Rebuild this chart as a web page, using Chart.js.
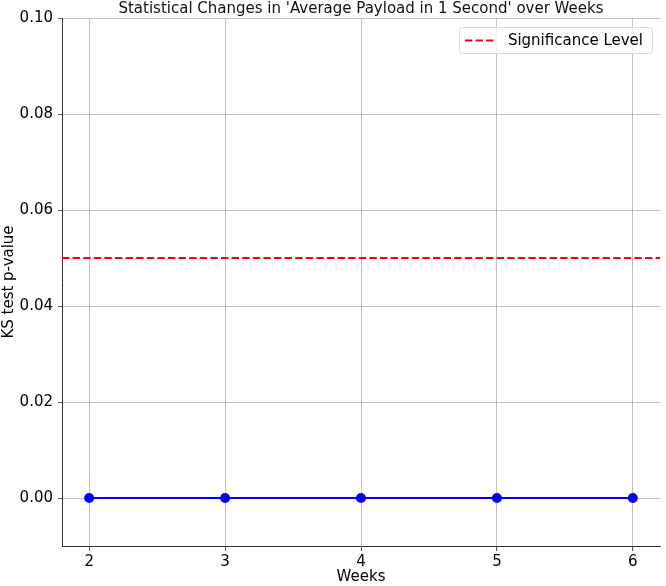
<!DOCTYPE html>
<html>
<head>
<meta charset="utf-8">
<script src="https://cdn.jsdelivr.net/npm/chart.js@4"></script>
<style>
  html, body { margin: 0; padding: 0; background: #fff; }
  #wrap { width: 666px; height: 586px; }
</style>
</head>
<body>
<div id="wrap"><canvas id="ks-chart" width="666" height="586"></canvas></div>
<script>
var weeks = [2, 3, 4, 5, 6];
var pValues = [0, 0, 0, 0, 0];
var significanceLevel = 0.05;
var xTicks = [2, 3, 4, 5, 6];
var yTicks = [0, 0.02, 0.04, 0.06, 0.08, 0.10];
var xRange = [1.8, 6.2];
var yRange = [-0.01, 0.10];

var font = "'DejaVu Sans', sans-serif";
Chart.defaults.font.family = font;
Chart.defaults.color = "#000";

// legend box drawn inside the plot, top right
var insideLegend = {
	id : "insideLegend",
	afterDraw : function(chart) {
		var c = chart.ctx, a = chart.chartArea;
		var ds = chart.data.datasets[1];
		c.save();
		c.font = "15px " + font;
		var tw = c.measureText(ds.label).width;
		var w = tw + 58, h = 26;
		var x = a.right - w - 8, y = a.top + 9;
		c.fillStyle = "rgba(255,255,255,0.8)";
		c.strokeStyle = "#d9d9d9";
		c.lineWidth = 1;
		c.beginPath();
		c.roundRect(x + 0.5, y + 0.5, w, h, 3);
		c.fill();
		c.stroke();
		c.strokeStyle = ds.borderColor;
		c.lineWidth = 2;
		c.setLineDash(ds.borderDash);
		c.beginPath();
		c.moveTo(x + 6, y + h / 2 + 0.5);
		c.lineTo(x + 37, y + h / 2 + 0.5);
		c.stroke();
		c.setLineDash([]);
		c.fillStyle = "#000";
		c.textBaseline = "middle";
		c.fillText(ds.label, x + 49, y + h / 2 + 1);
		c.restore();
	}
};

var data = {
	datasets : [
		{
			label : "KS p-value",
			data : weeks.map(function(w, i) { return { x : w, y : pValues[i] }; }),
			borderColor : "#0000ff",
			backgroundColor : "#0000ff",
			borderWidth : 2,
			pointRadius : 4,
			pointHoverRadius : 4,
			fill : false,
			tension : 0
		},
		{
			label : "Significance Level",
			data : [ { x : xRange[0], y : significanceLevel }, { x : xRange[1], y : significanceLevel } ],
			borderColor : "#ff0000",
			backgroundColor : "#ff0000",
			borderWidth : 2,
			borderDash : [7.4, 3.2],
			pointRadius : 0,
			fill : false
		}
	]
};

var options = {
	responsive : false,
	animation : false,
	layout : { padding : { left : 0, right : 2, top : 0, bottom : 0 } },
	plugins : {
		legend : { display : false },
		tooltip : { enabled : false },
		title : {
			display : true,
			fullSize : false,
			text : "Statistical Changes in 'Average Payload in 1 Second' over Weeks",
			font : { size : 15, weight : "normal", lineHeight : 1.2 },
			color : "#111",
			padding : { top : 0, bottom : 0 }
		}
	},
	scales : {
		x : {
			type : "linear",
			min : xRange[0],
			max : xRange[1],
			afterBuildTicks : function(s) { s.ticks = xTicks.map(function(v) { return { value : v }; }); },
			afterFit : function(s) { s.height = 40; },
			ticks : { font : { size : 15 }, padding : 2, maxRotation : 0 },
			grid : { color : "#b0b0b0", lineWidth : 0.8, tickLength : 5, tickColor : "#333", drawTicks : true },
			border : { color : "#333", width : 1 },
			title : { display : true, text : "Weeks", font : { size : 15 }, padding : { top : 0, bottom : 0 } }
		},
		y : {
			min : yRange[0],
			max : yRange[1],
			afterBuildTicks : function(s) { s.ticks = yTicks.map(function(v) { return { value : v }; }); },
			afterFit : function(s) { s.width = 62; },
			ticks : { font : { size : 15 }, padding : 5, callback : function(v) { return v.toFixed(2); } },
			grid : { color : "#b0b0b0", lineWidth : 0.8, tickLength : 4, tickColor : "#333" },
			border : { color : "#333", width : 1 },
			title : { display : true, text : "KS test p-value", font : { size : 15 }, padding : { top : 0, bottom : 0 } }
		}
	}
};

var chart = new Chart(document.getElementById("ks-chart"), {
	type : "line",
	data : data,
	options : options,
	plugins : [ insideLegend ]
});
</script>
</body>
</html>
